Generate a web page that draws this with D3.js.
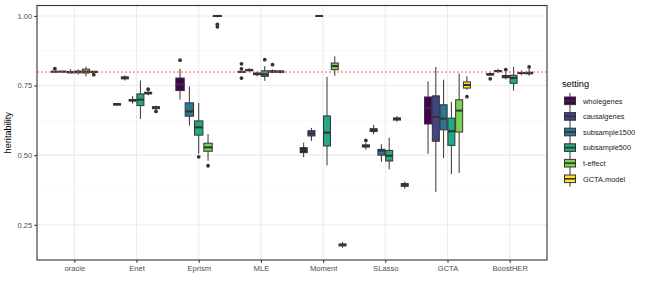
<!DOCTYPE html>
<html>
<head>
<meta charset="utf-8">
<script src="https://cdn.jsdelivr.net/npm/d3@7"></script>
<style>
body { margin: 0; background: #fff; }
text { font-family: "Liberation Sans", Arial, sans-serif; }
</style>
</head>
<body>
<div id="chart"></div>
<script>
// methods on the x axis, settings are the fill groups
var methods = ["oracle", "Enet", "Eprism", "MLE", "Moment", "SLasso", "GCTA", "BoostHER"];
var settings = ["wholegenes", "causalgenes", "subsample1500", "subsample500", "t-effect", "GCTA.model"];
var colors = ["#440154", "#414487", "#2A788E", "#22A884", "#7AD151", "#FDE725"];
var yTicks = [0.25, 0.50, 0.75, 1.00];
var refLine = 0.8;

// per method: [lower whisker, q1, median, q3, upper whisker, outliers]; null = not run
var wholegenes = [
  [0.797, 0.798, 0.800, 0.801, 0.803, [0.811]],
  [0.678, 0.680, 0.683, 0.685, 0.688, []],
  [0.699, 0.732, 0.754, 0.777, 0.810, [0.841]],
  [0.795, 0.797, 0.799, 0.801, 0.803, [0.828, 0.810, 0.777]],
  [0.493, 0.509, 0.518, 0.527, 0.545, []],
  [0.520, 0.529, 0.533, 0.537, 0.545, [0.553]],
  [0.505, 0.612, 0.669, 0.709, 0.765, []],
  [0.785, 0.788, 0.790, 0.793, 0.797, [0.774]]
];
var causalgenes = [
  [0.797, 0.799, 0.800, 0.801, 0.803, []],
  [0.768, 0.774, 0.778, 0.781, 0.787, []],
  null,
  [0.800, 0.803, 0.806, 0.808, 0.812, []],
  [0.551, 0.569, 0.578, 0.588, 0.598, []],
  [0.575, 0.585, 0.590, 0.595, 0.609, []],
  [0.368, 0.550, 0.637, 0.713, 0.817, []],
  [0.795, 0.800, 0.802, 0.804, 0.810, []]
];
var subsample1500 = [
  [0.793, 0.796, 0.798, 0.800, 0.809, []],
  [0.685, 0.694, 0.698, 0.700, 0.712, []],
  [0.606, 0.640, 0.657, 0.688, 0.747, []],
  [0.783, 0.789, 0.792, 0.795, 0.800, []],
  [0.998, 0.999, 1.000, 1.000, 1.000, []],
  [0.476, 0.500, 0.516, 0.521, 0.539, []],
  [0.489, 0.591, 0.631, 0.681, 0.771, []],
  [0.772, 0.778, 0.782, 0.786, 0.800, [0.807]]
];
var subsample500 = [
  [0.790, 0.796, 0.799, 0.802, 0.808, []],
  [0.630, 0.678, 0.699, 0.720, 0.768, []],
  [0.505, 0.572, 0.600, 0.623, 0.687, [0.494]],
  [0.767, 0.783, 0.790, 0.803, 0.820, [0.843]],
  [0.463, 0.533, 0.581, 0.641, 0.781, []],
  [0.449, 0.479, 0.498, 0.517, 0.563, []],
  [0.432, 0.535, 0.586, 0.633, 0.691, []],
  [0.732, 0.758, 0.777, 0.787, 0.817, []]
];
var teffect = [
  [0.783, 0.795, 0.800, 0.809, 0.818, []],
  [0.715, 0.720, 0.723, 0.726, 0.730, [0.737]],
  [0.480, 0.514, 0.528, 0.543, 0.576, [0.462]],
  [0.795, 0.798, 0.800, 0.803, 0.808, [0.825]],
  [0.785, 0.807, 0.820, 0.831, 0.855, []],
  [0.620, 0.626, 0.630, 0.634, 0.640, []],
  [0.436, 0.583, 0.660, 0.699, 0.793, []],
  [0.787, 0.793, 0.795, 0.797, 0.805, []]
];
var gctaModel = [
  [0.795, 0.797, 0.799, 0.801, 0.803, [0.789]],
  [0.662, 0.667, 0.671, 0.674, 0.678, [0.657]],
  [0.995, 0.998, 1.000, 1.000, 1.000, [0.970, 0.961]],
  [0.794, 0.797, 0.800, 0.802, 0.805, []],
  [0.168, 0.174, 0.178, 0.181, 0.188, []],
  [0.380, 0.388, 0.393, 0.398, 0.405, []],
  [0.735, 0.741, 0.752, 0.763, 0.783, [0.710]],
  [0.785, 0.792, 0.795, 0.798, 0.810, [0.817]]
];
var seriesStats = [wholegenes, causalgenes, subsample1500, subsample500, teffect, gctaModel];

var width = 649, height = 289;
var margin = {top: 5.5, right: 102, bottom: 29, left: 37};
var pw = width - margin.left - margin.right;
var ph = height - margin.top - margin.bottom;

var svg = d3.select("#chart").append("svg")
  .attr("width", width)
  .attr("height", height);

var g = svg.append("g").attr("transform", "translate(" + margin.left + "," + margin.top + ")");

var x = d3.scalePoint().domain(methods).range([0, pw]).padding(0.6);
var y = d3.scaleLinear().domain([0.1235, 1.0375]).range([ph, 0]);
var step = x.step();

// grid
var minor = [0.375, 0.625, 0.875];
g.selectAll(".minor").data(minor).enter().append("line")
  .attr("x1", 0).attr("x2", pw)
  .attr("y1", function(d) { return y(d); }).attr("y2", function(d) { return y(d); })
  .attr("stroke", "#F2F2F2").attr("stroke-width", 0.6);
g.selectAll(".major").data(yTicks).enter().append("line")
  .attr("x1", 0).attr("x2", pw)
  .attr("y1", function(d) { return y(d); }).attr("y2", function(d) { return y(d); })
  .attr("stroke", "#EBEBEB").attr("stroke-width", 1.1);
g.selectAll(".vmajor").data(methods).enter().append("line")
  .attr("y1", 0).attr("y2", ph)
  .attr("x1", function(d) { return x(d); }).attr("x2", function(d) { return x(d); })
  .attr("stroke", "#EBEBEB").attr("stroke-width", 1.1);

// boxes, dodged like position_dodge2 (width shared by the groups present)
var boxes = [];
methods.forEach(function(m, mi) {
  var present = [];
  seriesStats.forEach(function(s, si) { if (s[mi]) present.push(si); });
  var w = 0.75 * step / present.length;
  present.forEach(function(si, k) {
    var st = seriesStats[si][mi];
    boxes.push({
      cx: x(m) + (k - (present.length - 1) / 2) * w,
      w: w * 0.9,
      color: colors[si],
      lo: st[0], q1: st[1], med: st[2], q3: st[3], hi: st[4], out: st[5]
    });
  });
});

var bx = g.selectAll(".box").data(boxes).enter().append("g").attr("class", "box");
bx.append("line")
  .attr("x1", function(d) { return d.cx; }).attr("x2", function(d) { return d.cx; })
  .attr("y1", function(d) { return y(d.hi); }).attr("y2", function(d) { return y(d.q3); })
  .attr("stroke", "#333333").attr("stroke-width", 1);
bx.append("line")
  .attr("x1", function(d) { return d.cx; }).attr("x2", function(d) { return d.cx; })
  .attr("y1", function(d) { return y(d.q1); }).attr("y2", function(d) { return y(d.lo); })
  .attr("stroke", "#333333").attr("stroke-width", 1);
bx.append("rect")
  .attr("x", function(d) { return d.cx - d.w / 2; })
  .attr("width", function(d) { return d.w; })
  .attr("y", function(d) { return y(d.q3); })
  .attr("height", function(d) { return Math.max(y(d.q1) - y(d.q3), 0.5); })
  .attr("fill", function(d) { return d.color; })
  .attr("stroke", "#333333").attr("stroke-width", 1);
bx.append("line")
  .attr("x1", function(d) { return d.cx - d.w / 2; }).attr("x2", function(d) { return d.cx + d.w / 2; })
  .attr("y1", function(d) { return y(d.med); }).attr("y2", function(d) { return y(d.med); })
  .attr("stroke", "#333333").attr("stroke-width", 2);
bx.selectAll("circle").data(function(d) { return d.out.map(function(v) { return {cx: d.cx, v: v}; }); })
  .enter().append("circle")
  .attr("cx", function(d) { return d.cx; })
  .attr("cy", function(d) { return y(d.v); })
  .attr("r", 1.9)
  .attr("fill", "#333333");

// reference line
g.append("line")
  .attr("x1", 0).attr("x2", pw)
  .attr("y1", Math.round(y(refLine)) + 0.5).attr("y2", Math.round(y(refLine)) + 0.5)
  .attr("stroke", "#FF5050").attr("stroke-width", 1)
  .attr("stroke-dasharray", "2,2");

// panel border
g.append("rect").attr("width", pw).attr("height", ph)
  .attr("fill", "none").attr("stroke", "#333333").attr("stroke-width", 1.1);

// axes
var yAxis = g.append("g").call(d3.axisLeft(y).tickValues(yTicks).tickFormat(d3.format(".2f")).tickSize(2.7).tickPadding(2));
var xAxis = g.append("g").attr("transform", "translate(0," + ph + ")")
  .call(d3.axisBottom(x).tickSize(2.7).tickPadding(2.5));
[yAxis, xAxis].forEach(function(a) {
  a.select(".domain").remove();
  a.selectAll("line").attr("stroke", "#333333").attr("stroke-width", 1.1);
  a.selectAll("text").attr("fill", "#4D4D4D").attr("font-size", "7.6px")
    .style("font-family", "'Liberation Sans', Arial, sans-serif");
});

svg.append("text")
  .attr("transform", "translate(11," + (margin.top + ph / 2) + ") rotate(-90)")
  .attr("text-anchor", "middle")
  .attr("font-size", "9.2px")
  .attr("fill", "#000")
  .text("heritability");

// legend
var lg = svg.append("g").attr("transform", "translate(561,0)");
lg.append("text").attr("x", 1).attr("y", 87).attr("font-size", "9.2px").attr("fill", "#000").text("setting");
var item = lg.selectAll(".item").data(settings).enter().append("g")
  .attr("transform", function(d, i) { return "translate(0," + (93 + i * 15.6) + ")"; });
item.append("line").attr("x1", 9).attr("x2", 9).attr("y1", 0).attr("y2", 15.6)
  .attr("stroke", "#333333").attr("stroke-width", 1);
item.append("rect").attr("x", 3.5).attr("y", 4).attr("width", 11).attr("height", 7.6)
  .attr("fill", function(d, i) { return colors[i]; })
  .attr("stroke", "#333333").attr("stroke-width", 1);
item.append("line").attr("x1", 3.5).attr("x2", 14.5).attr("y1", 7.8).attr("y2", 7.8)
  .attr("stroke", "#333333").attr("stroke-width", 1.6);
item.append("text").attr("x", 22).attr("y", 10.6).attr("font-size", "7.4px").attr("fill", "#1a1a1a")
  .text(function(d) { return d; });
</script>
</body>
</html>
